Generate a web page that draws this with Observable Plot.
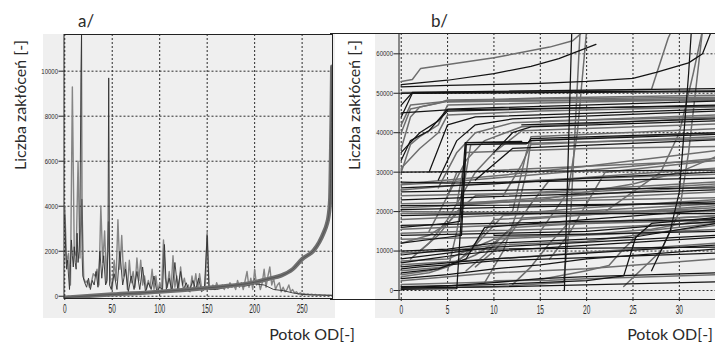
<!DOCTYPE html>
<html><head><meta charset="utf-8">
<script src="https://cdn.jsdelivr.net/npm/d3@7"></script>
<script src="https://cdn.jsdelivr.net/npm/@observablehq/plot@0.6"></script>
<style>
body{margin:0;background:#fff;}
#wrap{position:relative;width:715px;height:347px;overflow:hidden;font-family:Lato,"Open Sans",sans-serif;color:#2a2a2a;}
.bg{position:absolute;background:#efefef;}
.lbl{position:absolute;white-space:nowrap;font-size:16px;line-height:1;}
.rot{transform:translate(-50%,-50%) rotate(-90deg);}
.pan{position:absolute;top:0;}
</style></head><body>
<div id="wrap">
  <div class="bg" style="left:43px;top:34px;width:292px;height:284px"></div>
  <div class="bg" style="left:375px;top:33px;width:340px;height:285px"></div>
  <div style="position:absolute;left:330px;top:33px;width:70px;height:265px;border-top:1px solid #222;border-bottom:1px solid #222"></div>
  <div id="pa" class="pan" style="left:0"></div>
  <div id="pb" class="pan" style="left:357px"></div>
  <div class="lbl" style="left:78px;top:12px;font-size:17px">a/</div>
  <div class="lbl" style="left:431px;top:12px;font-size:17px">b/</div>
  <div class="lbl rot" style="left:20px;top:105px">Liczba zakłóceń [-]</div>
  <div class="lbl rot" style="left:354px;top:105px">Liczba zakłóceń [-]</div>
  <div class="lbl" style="right:360px;top:326px">Potok OD[-]</div>
  <div class="lbl" style="right:2px;top:326px">Potok OD[-]</div>
</div>
<script>
// ---------- data: panel a ----------
const aTicksX = [0, 50, 100, 150, 200, 250];
const aTicksY = [0, 2000, 4000, 6000, 8000, 10000];
const aNoise = [[0,4000],[2,1500],[4,1900],[6,500],[8,9300],[10,2000],[12,1800],[14,6000],[16,1700],[18,4300],[20,800],[22,600],[24,700],[26,400],[28,600],[30,1000],[32,900],[34,1200],[36,500],[38,4000],[40,1500],[42,2900],[44,600],[46,3300],[48,800],[50,300],[52,1600],[54,700],[56,3400],[58,1200],[60,2700],[62,900],[64,1500],[66,300],[68,1600],[70,600],[72,1100],[74,400],[76,1700],[78,700],[80,1600],[82,500],[84,900],[86,300],[88,700],[90,400],[92,1200],[94,300],[96,900],[98,200],[100,600],[102,300],[104,2500],[106,800],[108,400],[110,1100],[112,300],[114,1800],[116,400],[118,900],[120,300],[122,1300],[124,500],[126,800],[128,300],[130,500],[132,200],[134,900],[136,400],[138,1000],[140,300],[142,1000],[144,400],[146,300],[148,500],[150,2850],[152,400],[154,300],[156,500],[158,300],[160,600],[162,350],[164,400],[166,500],[168,300],[170,500],[172,350],[174,600],[176,400],[178,500],[180,300],[182,700],[184,400],[186,600],[188,300],[190,700],[192,1100],[194,400],[196,800],[198,300],[200,1200],[202,500],[204,700],[206,300],[208,600],[210,1200],[212,400],[214,900],[216,1300],[218,500],[220,800],[222,300],[224,500],[226,600],[228,200],[230,400],[232,200],[234,300],[236,500],[238,200],[240,300],[242,150],[244,200],[246,100],[248,150],[250,100],[252,120],[254,80],[256,100],[258,70],[260,90],[262,60],[264,80],[266,50],[268,70],[270,60],[272,50],[274,60],[276,40],[278,50],[280,40],[282,40]];
const aDark = [[0,3600],[1,2000],[2,1200],[3,1600],[4,900],[5,300],[6,1400],[7,2500],[8,1800],[9,1300],[10,2200],[11,1500],[12,1200],[13,2800],[14,1500],[15,2000],[16,3000],[17,9700],[17.7,11800],[18.3,1800],[19,900],[21,600],[23,400],[25,800],[27,300],[29,700],[31,500],[33,1100],[35,400],[37,2000],[39,800],[41,1800],[43,500],[44.5,700],[45.5,2000],[46.3,9700],[47.2,500],[49,300],[52,1000],[55,300],[58,2000],[61,500],[64,1200],[67,200],[70,900],[73,300],[76,1100],[79,300],[82,1300],[85,200],[88,600],[91,300],[94,900],[97,200],[100,400],[103,300],[105,2300],[107,300],[110,800],[113,200],[116,1500],[119,300],[122,1100],[125,300],[128,600],[131,200],[135,700],[138,300],[141,800],[144,200],[147,300],[150,2700],[152,300],[160,300],[170,400],[180,500],[190,450],[200,550],[210,500],[220,300],[230,250],[240,150],[250,80],[260,60],[270,50],[282,40]];
const aSorted = [[0,-60],[20,0],[50,80],[100,200],[150,370],[175,470],[200,620],[215,780],[228,920],[240,1200],[250,1650],[262,2030],[268,2400],[273,2850],[276,3200],[278,3600],[279.5,4300],[280.3,6000],[281,8000],[281.6,10200]];

// ---------- data: panel b ----------
const bTicksX = [0, 5, 10, 15, 20, 25, 30];
const bTicksY = [0, 10000, 20000, 30000, 40000, 50000, 60000];
const bGrey = [
 [[0,53000],[1.2,53500],[2.1,56300],[10,59000],[16,61700],[18.5,63300],[19.8,66000]],
 [[0,50200],[10,50400],[20,50700],[27,51000],[28.8,64000],[29.2,66000]],
 [[0,36000],[1,44000],[2,46500],[5,48000],[15,48800],[34,49500]],
 [[0,40000],[1,46000],[4,47500],[5,48300],[34,49000]],
 [[0,30000],[1,37000],[2,39000],[4,42000],[5,47000],[20,47800],[34,48500]],
 [[0,31000],[2,36000],[4,40000],[5,44500],[15,45500],[34,46500]],
 [[4,26000],[6,35000],[8,40000],[12,42500],[34,44500]],
 [[5,24000],[7,33000],[9,38000],[13,41500],[34,43800]],
 [[6,22000],[8,30000],[10,35000],[13,40500],[34,42200]],
 [[12,20000],[13.5,35000],[14,39000],[34,41000]],
 [[11,24000],[13,32000],[14,37000],[34,39000]],
 [[6,22000],[7,35000],[20,36000],[34,36500]],
 [[0,27000],[5,28000],[10,29000],[20,31500],[34,35500]],
 [[0,26800],[5,27500],[15,29500],[25,31500],[34,33500]],
 [[0,25500],[5,26500],[15,28000],[34,29500]],
 [[0,24000],[20,25000],[34,27000]],
 [[0,22000],[34,23500]],
 [[0,21000],[5,21500],[15,23000],[25,27000],[30,30000],[34,34000]],
 [[0,19500],[34,20000]],
 [[0,18000],[10,19000],[20,21000],[34,23000]],
 [[0,15500],[10,16500],[20,17000],[34,17800]],
 [[0,13000],[10,13500],[20,14200],[27,15500],[34,18500]],
 [[0,9500],[5,10000],[10,11500],[20,12500],[34,16500]],
 [[0,7500],[5,8000],[7,10000],[10,13000],[34,15500]],
 [[0,6500],[10,8000],[34,12000]],
 [[0,5000],[5,6000],[8,9000],[10,12000],[12,16000],[34,19000]],
 [[0,4000],[3,5000],[6,7000],[8,12000],[10,18000],[34,21000]],
 [[0,2500],[5,3500],[10,4500],[20,5500],[34,8000]],
 [[0,500],[10,1000],[17.5,2000],[18.3,20000],[19.3,66000]],
 [[5,5000],[6,15000],[7,30000],[7.5,37000],[34,38500]],
 [[9,2000],[11,10000],[12.5,20000],[13.5,30000],[14,38000],[34,40000]],
 [[15,15000],[18,25000],[19,40000],[20,66000]],
 [[22,20000],[25,25000],[28,30000],[30,40000],[31.5,55000],[32.5,66000]],
 [[10,2500],[16,2600],[20,3000],[34,4000]],
 [[2,10000],[4,14000],[6,20000],[8,24000],[34,27500]],
 [[0,12000],[3,14000],[5,17000],[7,22000],[34,25000]],
 [[8,6000],[10,10000],[12,15000],[14,22000],[16,28000],[34,31000]],
 [[3,15000],[5,24000],[6,30000],[34,33000]],
 [[16,8000],[18,14000],[20,22000],[22,30000],[34,33000]],
 [[0,42000],[1,47000],[5,48000],[34,48200]],
 [[24,1000],[28,10000],[30,20000],[31,35000],[32.5,66000]],
 [[0,1500],[8,2000],[15,2800],[20,5000],[22.4,6350],[24,10600],[26,15000],[34,17000]],
 [[5,47800],[20,48300],[34,48700]],
 [[0,20000],[10,19800],[34,20300]],
 [[0,14500],[10,15200],[20,15800],[34,17300]],
 [[0,3500],[3,4500],[5,6000],[7,9000],[9,14000],[11,19000],[34,22000]],
 [[1,8000],[3,12000],[5,18000],[6,22000],[34,26500]],
 [[7,5000],[9,9000],[11,14000],[13,18000],[34,21500]],
 [[12,1500],[14,6000],[16,12000],[18,17000],[34,19000]],
 [[15,43000],[25,43500],[34,44000]]
];
const bBlack = [
 [[0,52200],[5,53300],[10,55000],[14,56800],[17,58800],[21,62400]],
 [[0,51600],[5,52000],[15,52500],[20,53000],[25,53800],[27.5,55300],[31,57700],[32.5,60000],[33.5,66000]],
 [[0,47000],[1.2,50200],[34,51200]],
 [[0,44000],[1.2,50000],[34,50400]],
 [[0,33000],[1,38000],[3,40500],[5,46000],[34,48000]],
 [[0,35000],[2,40000],[4,43000],[5,45500],[34,47000]],
 [[3,30000],[5,42000],[8,44000],[34,46000]],
 [[4,28000],[6,38000],[8,42000],[12,43500],[34,45500]],
 [[10,35000],[12,40000],[14,41500],[34,43000]],
 [[0,16000],[5,17000],[6.3,17500],[6.9,37500],[13.7,37500],[14,38500],[34,40000]],
 [[0,12000],[5,13500],[6.5,14000],[7,37000],[13.5,37200],[14,38000],[34,39600]],
 [[8,28000],[12,36000],[34,38200]],
 [[0,30000],[10,30200],[34,30500]],
 [[0,26000],[10,27000],[20,28500],[34,30000]],
 [[0,25000],[15,25600],[34,26000]],
 [[0,23000],[10,23800],[20,24500],[34,25500]],
 [[0,21500],[34,22000]],
 [[0,19000],[10,19500],[34,19500]],
 [[0,16500],[10,17000],[20,17500],[34,18000]],
 [[0,14000],[10,14500],[20,15000],[28,16500],[34,17500]],
 [[0,10000],[5,10500],[10,12000],[20,13000],[25,13500],[34,17000]],
 [[0,8000],[5,9500],[10,11000],[34,14000]],
 [[0,7000],[3,8000],[6,9000],[10,10000],[34,13500]],
 [[0,6000],[5,7000],[10,8000],[20,9500],[34,11500]],
 [[0,4500],[4,5500],[7,8000],[9,16000],[34,20500]],
 [[0,3000],[5,4000],[10,5500],[15,6500],[20,8000],[34,10500]],
 [[0,1000],[10,1500],[20,2500],[24,3700],[25.3,13500],[27,17000],[34,18500]],
 [[0,300],[6,500],[6.3,12000],[6.8,30000],[7,37500],[13,37800]],
 [[17.6,0],[18.4,66000]],
 [[0,600],[3,700],[10,900],[34,2200]],
 [[0,9000],[3,9800],[5,10200],[8,10500],[34,11000]],
 [[0,45000],[5,45800],[34,46800]],
 [[0,50000],[5,50200],[34,50600]],
 [[27,5000],[29,15000],[30,25000],[30.5,40000],[31,55000],[31.3,66000]],
 [[0,20500],[10,21000],[20,21500],[34,22500]],
 [[0,5500],[2,6000],[5,6500],[10,7500],[34,9500]],
 [[10,14000],[20,14300],[34,15000]],
 [[0,800],[2,900],[5,1200],[10,2000],[15,3000],[20,3500],[34,4500]],
 [[13,42000],[20,42500],[34,43500]],
 [[0,27500],[5,27200],[34,28500]]
];

// ---------- helpers ----------
const toRows = (series, prefix) => series.flatMap((s, k) => s.map(([x, y]) => ({x, y, s: prefix + k})));
const pairs = arr => arr.map(([x, y]) => ({x, y}));
const FONT = "Liberation Sans, Arial, sans-serif";
const fmt = d3.format("d");

function squeeze(svg, sel, sx) {
  d3.select(svg).selectAll(sel).each(function () {
    const t = this.getAttribute("transform") || "";
    this.setAttribute("transform", t + ` scale(${sx},1)`);
  });
}

const grid = {stroke: "#2a2a2a", strokeOpacity: 1, strokeDasharray: "2,2", strokeWidth: 1};

const pa = Plot.plot({
  width: 357, height: 347,
  marginLeft: 63.5, marginRight: 25, marginTop: 34, marginBottom: 49,
  style: {background: "transparent", fontFamily: FONT, color: "#2a2a2a", overflow: "visible"},
  x: {domain: [-0.8, 282]},
  y: {domain: [-100, 11630]},
  marks: [
    Plot.gridX(aTicksX, grid),
    Plot.gridY(aTicksY, grid),
    Plot.line(pairs(aNoise), {x: "x", y: "y", stroke: "#858585", strokeWidth: 1.4, clip: true}),
    Plot.line(pairs(aDark), {x: "x", y: "y", stroke: "#303030", strokeWidth: 0.9, clip: true}),
    Plot.line(pairs(aSorted), {x: "x", y: "y", stroke: "#6f6f6f", strokeWidth: 4.2, clip: true, curve: "monotone-x"}),
    Plot.line(pairs(aSorted), {x: "x", y: "y", stroke: "#555", strokeWidth: 1, clip: true, curve: "monotone-x"}),
    Plot.frame({stroke: "#222"}),
    Plot.axisX(aTicksX, {tickSize: 2, tickPadding: 3, fontSize: 13, label: null, stroke: "#222", tickFormat: fmt}),
    Plot.axisY(aTicksY, {tickSize: 5, tickPadding: 1, fontSize: 7.5, label: null, stroke: "#222", tickFormat: fmt})
  ]
});
squeeze(pa, 'g[aria-label="x-axis tick label"] text', 0.5);
squeeze(pa, 'g[aria-label="y-axis tick label"] text', 0.8);
document.getElementById("pa").appendChild(pa);

const pb = Plot.plot({
  width: 358, height: 347,
  marginLeft: 41.5, marginRight: 0, marginTop: 33, marginBottom: 48,
  style: {background: "transparent", fontFamily: FONT, color: "#2a2a2a", overflow: "visible"},
  x: {domain: [-0.24, 33.9]},
  y: {domain: [-2280, 65150]},
  marks: [
    Plot.gridX(bTicksX, grid),
    Plot.gridY(bTicksY, grid),
    Plot.line(toRows(bGrey, "g"), {x: "x", y: "y", z: "s", stroke: "#6e6e6e", strokeWidth: 1.5, clip: true}),
    Plot.line(toRows(bBlack, "b"), {x: "x", y: "y", z: "s", stroke: "#141414", strokeWidth: 1.25, clip: true}),
    Plot.frame({stroke: "#222"}),
    Plot.axisX(bTicksX, {tickSize: 2, tickPadding: 3, fontSize: 13, label: null, stroke: "#222", tickFormat: fmt}),
    Plot.axisY(bTicksY, {tickSize: 5, tickPadding: 1, fontSize: 7.5, label: null, stroke: "#222", tickFormat: fmt})
  ]
});
squeeze(pb, 'g[aria-label="x-axis tick label"] text', 0.5);
squeeze(pb, 'g[aria-label="y-axis tick label"] text', 0.8);
document.getElementById("pb").appendChild(pb);
</script>
</body></html>
